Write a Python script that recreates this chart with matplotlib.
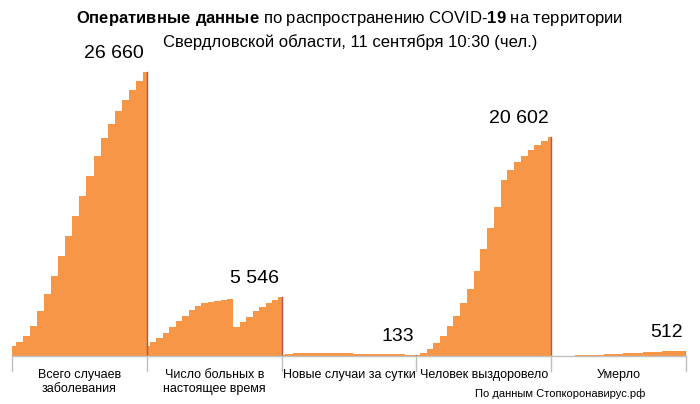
import matplotlib
matplotlib.use("Agg")
import matplotlib.pyplot as plt
import numpy as np

plt.rcParams["font.family"] = "Liberation Sans"
plt.rcParams["mathtext.fontset"] = "custom"
plt.rcParams["mathtext.rm"] = "Liberation Sans"
plt.rcParams["mathtext.bf"] = "Liberation Sans:bold"

categories = ["Всего случаев\nзаболевания", "Число больных в\nнастоящее время",
              "Новые случаи за сутки", "Человек выздоровело", "Умерло"]
end_labels = ["26 660", "5 546", "133", "20 602", "512"]

total = [940, 1320, 1880, 2820, 4230, 5830, 7520, 9400, 11280, 13160, 15040,
         16920, 18800, 20490, 21810, 23030, 24060, 25000, 25850, 26660]
active = [900, 1300, 1700, 2200, 2700, 3300, 3800, 4300, 4700, 5000, 5100,
          5200, 5300, 5350, 2700, 3200, 3700, 4200, 4600, 5000, 5300, 5546]
new_cases = [50, 150, 250, 300, 280, 300, 250, 280, 260, 240, 220, 200, 200,
             180, 170, 160, 150, 140, 133]
recovered = [100, 300, 700, 1200, 1900, 2800, 3800, 5000, 6300, 8000, 10000,
             12000, 14000, 16500, 17500, 18200, 18800, 19300, 19800, 20200, 20602]
deaths = [10, 20, 40, 60, 90, 120, 160, 200, 240, 290, 340, 390, 440, 480, 512]
series = [total, active, new_cases, recovered, deaths]

fig = plt.figure(figsize=(7, 4.04), dpi=100)
ax = fig.add_axes([12 / 700, 48 / 404, 674 / 700, 316 / 404])
ax.set_xlim(0, 5)
ax.set_ylim(0, 29660)
ax.axis("off")

for i, vals in enumerate(series):
    x = i + np.linspace(0, 1, len(vals))
    ax.fill_between(x, 0, vals, color="#F79646", step="mid", lw=0)
    ax.plot([i + 1, i + 1], [0, vals[-1]], color="#C0504D", lw=1)
    ax.text(i + 0.98, vals[-1] + 900, end_labels[i], ha="right", va="bottom", fontsize=14)
    ax.text(i + 0.5, -1200, categories[i], ha="center", va="top", fontsize=9)

ax.plot([0, 5], [0, 0], color="#BFBFBF", lw=1, clip_on=False)
for b in range(6):
    ax.plot([b, b], [0, -1400], color="#BFBFBF", lw=1, clip_on=False)

fig.text(0.5, 0.955, r"$\bf{Оперативные\ данные}$ по распространению COVID-$\bf{19}$ на территории",
         ha="center", va="center", fontsize=12)
fig.text(0.5, 0.895, "Свердловской области, 11 сентября 10:30 (чел.)",
         ha="center", va="center", fontsize=12)
fig.text(0.8, 0.025, "По данным Стопкоронавирус.рф", ha="center", va="center", fontsize=8)

fig.savefig("out.png", dpi=100)
